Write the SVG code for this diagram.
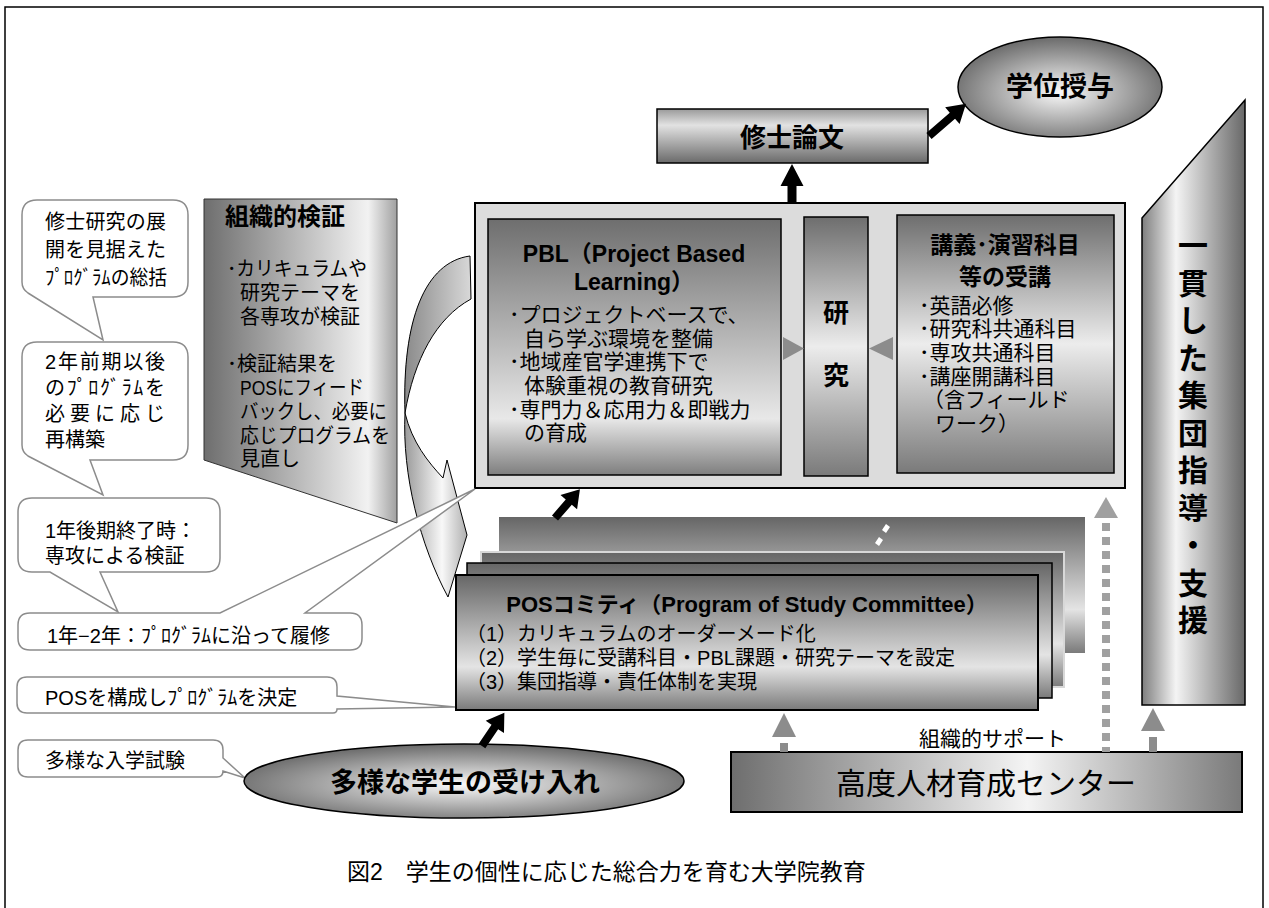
<svg xmlns="http://www.w3.org/2000/svg" width="1269" height="908" viewBox="0 0 1269 908">
<defs>
  <linearGradient id="gPBL" x1="0" y1="0" x2="0" y2="1">
    <stop offset="0" stop-color="#6e6e6e"/><stop offset="0.78" stop-color="#e8e8e8"/><stop offset="1" stop-color="#7e7e7e"/>
  </linearGradient>
  <linearGradient id="gMid" x1="0" y1="0" x2="0" y2="1">
    <stop offset="0" stop-color="#6e6e6e"/><stop offset="0.5" stop-color="#ececec"/><stop offset="1" stop-color="#7a7a7a"/>
  </linearGradient>
  <linearGradient id="gPOS" x1="0" y1="0" x2="0" y2="1">
    <stop offset="0" stop-color="#666"/><stop offset="0.68" stop-color="#e4e4e4"/><stop offset="1" stop-color="#7a7a7a"/>
  </linearGradient>
  <linearGradient id="gThesis" x1="0" y1="0" x2="0" y2="1">
    <stop offset="0" stop-color="#9a9a9a"/><stop offset="0.3" stop-color="#e2e2e2"/><stop offset="1" stop-color="#6a6a6a"/>
  </linearGradient>
  <radialGradient id="gEll" cx="0.5" cy="0.55" r="0.55">
    <stop offset="0" stop-color="#fafafa"/><stop offset="1" stop-color="#6a6a6a"/>
  </radialGradient>
  <linearGradient id="gCenter" x1="0" y1="0" x2="1" y2="0">
    <stop offset="0" stop-color="#6e6e6e"/><stop offset="0.58" stop-color="#f4f4f4"/><stop offset="1" stop-color="#7a7a7a"/>
  </linearGradient>
  <linearGradient id="gSide" x1="0" y1="0" x2="1" y2="0">
    <stop offset="0" stop-color="#7e7e7e"/><stop offset="0.33" stop-color="#f4f4f4"/><stop offset="1" stop-color="#686868"/>
  </linearGradient>
  <linearGradient id="gVerify" x1="0" y1="0" x2="1" y2="0">
    <stop offset="0" stop-color="#6e6e6e"/><stop offset="0.85" stop-color="#f2f2f2"/><stop offset="1" stop-color="#a0a0a0"/>
  </linearGradient>
  <linearGradient id="gCurveBack" x1="0" y1="0" x2="1" y2="0">
    <stop offset="0" stop-color="#8a8a8a"/><stop offset="1" stop-color="#d8d8d8"/>
  </linearGradient>
  <linearGradient id="gCurveFront" x1="0" y1="0" x2="1" y2="0">
    <stop offset="0" stop-color="#9a9a9a"/><stop offset="0.6" stop-color="#f8f8f8"/><stop offset="1" stop-color="#b0b0b0"/>
  </linearGradient>
</defs>
<style>
  text { font-family: "Liberation Sans", "Noto Sans CJK JP", sans-serif; fill: #000; }
  .t20 { font-size: 20px; }
  .t21 { font-size: 21px; }
  .b { font-weight: bold; }
  .callout { fill: #fff; stroke: #8c8c8c; stroke-width: 1.5; }
  .blk { fill: #000; }
  .gry { fill: #8c8c8c; }
  .lgry { fill: #a0a0a0; }
  .edge { stroke: #000; stroke-width: 1.5; }
</style>
<rect x="0" y="0" width="1269" height="908" fill="#fff"/>
<rect x="5" y="7" width="1258" height="960" fill="none" stroke="#000" stroke-width="1.5"/>

<!-- left callouts -->
<g id="callout-summary">
  <path class="callout" d="M37,200 H173 Q188,200 188,215 V282 Q188,297 173,297 H93 L103,340 L28,293 Q22,289 22,282 V215 Q22,200 37,200 Z"/>
  <text class="t20" x="45" y="229" textLength="121" lengthAdjust="spacing">修士研究の展</text>
  <text class="t20" x="45" y="257" textLength="121" lengthAdjust="spacing">開を見据えた</text>
  <text class="t20" x="45" y="285" textLength="122" lengthAdjust="spacingAndGlyphs">ﾌﾟﾛｸﾞﾗﾑの総括</text>
</g>
<g id="callout-rebuild">
  <path class="callout" d="M37,342 H173 Q188,342 188,357 V445 Q188,460 173,460 H90 L103,495 L28,456 Q22,452 22,445 V357 Q22,342 37,342 Z"/>
  <text class="t20" x="45" y="369" textLength="120" lengthAdjust="spacing">2年前期以後</text>
  <text class="t20" x="45" y="395" textLength="120" lengthAdjust="spacing">のﾌﾟﾛｸﾞﾗﾑを</text>
  <text class="t20" x="45" y="421" textLength="120" lengthAdjust="spacing">必要に応じ</text>
  <text class="t20" x="45" y="447">再構築</text>
</g>
<g id="callout-check">
  <path class="callout" d="M32,498 H206 Q220,498 220,512 V558 Q220,572 206,572 H100 L118,612 L50,572 H32 Q18,572 18,558 V512 Q18,498 32,498 Z"/>
  <text class="t20" x="45" y="538">1年後期終了時：</text>
  <text class="t20" x="45" y="563">専攻による検証</text>
</g>

<!-- organisational verification -->
<g id="verify">
  <polygon points="204,199 397,199 397,523 204,460" fill="url(#gVerify)" stroke="#333" stroke-width="1"/>
  <text x="225" y="225" class="b" font-size="24">組織的検証</text>
  <text class="t20" x="227" y="276" textLength="140" lengthAdjust="spacingAndGlyphs">･カリキュラムや</text>
  <text class="t20" x="240" y="300">研究テーマを</text>
  <text class="t20" x="240" y="324">各専攻が検証</text>
  <text class="t20" x="227" y="371">･検証結果を</text>
  <text class="t20" x="240" y="395" textLength="124" lengthAdjust="spacingAndGlyphs">POSにフィード</text>
  <text class="t20" x="240" y="419" textLength="147" lengthAdjust="spacingAndGlyphs">バックし、必要に</text>
  <text class="t20" x="240" y="443" textLength="150" lengthAdjust="spacingAndGlyphs">応じプログラムを</text>
  <text class="t20" x="240" y="466">見直し</text>
</g>

<!-- curved feedback arrow -->
<g id="curved-arrow">
  <path d="M470,256 C425,262 402,320 405,413 C414,360 436,318 471,299 Z" fill="url(#gCurveBack)" stroke="#000" stroke-width="1"/>
  <path d="M405,413 C402,475 420,545 448,597 L467,535 L447,460 L443,478 C428,462 412,442 405,413 Z" fill="url(#gCurveFront)" stroke="#000" stroke-width="1"/>
</g>

<!-- main container -->
<g id="container">
  <rect x="475" y="203" width="650" height="285" fill="#dcdcdc" stroke="#000" stroke-width="2"/>
</g>
<g id="pbl">
  <rect x="488" y="219" width="293" height="256" fill="url(#gPBL)" class="edge"/>
  <text x="634" y="262" class="b" font-size="23" text-anchor="middle">PBL（Project Based</text>
  <text x="634" y="290" class="b" font-size="23" text-anchor="middle">Learning）</text>
  <text class="t21" x="509" y="322">･プロジェクトベースで、</text>
  <text class="t21" x="524" y="346">自ら学ぶ環境を整備</text>
  <text class="t21" x="509" y="369">･地域産官学連携下で</text>
  <text class="t21" x="524" y="393">体験重視の教育研究</text>
  <text class="t21" x="509" y="417">･専門力＆応用力＆即戦力</text>
  <text class="t21" x="524" y="440">の育成</text>
</g>
<g id="research">
  <rect x="804" y="217" width="64" height="259" fill="url(#gMid)" class="edge"/>
  <text x="836" y="322" class="b" font-size="26" text-anchor="middle">研</text>
  <text x="836" y="385" class="b" font-size="26" text-anchor="middle">究</text>
</g>
<g id="lectures">
  <rect x="897" y="215" width="217" height="258" fill="url(#gMid)" class="edge"/>
  <text x="1005" y="253" class="b" font-size="23" text-anchor="middle">講義･演習科目</text>
  <text x="1005" y="285" class="b" font-size="23" text-anchor="middle">等の受講</text>
  <text class="t21" x="919" y="313">･英語必修</text>
  <text class="t21" x="919" y="336">･研究科共通科目</text>
  <text class="t21" x="919" y="360">･専攻共通科目</text>
  <text class="t21" x="919" y="384">･講座開講科目</text>
  <text class="t21" x="923" y="407">（含フィールド</text>
  <text class="t21" x="935" y="431">ワーク）</text>
</g>

<g id="thesis">
  <rect x="657" y="109" width="271" height="54" fill="url(#gThesis)" class="edge"/>
  <text x="792" y="147" class="b" font-size="26" text-anchor="middle">修士論文</text>
</g>
<g id="degree">
  <ellipse cx="1060" cy="87" rx="102" ry="50" fill="url(#gEll)" class="edge"/>
  <text x="1060" y="96" class="b" font-size="27" text-anchor="middle">学位授与</text>
</g>

<g id="support">
  <polygon points="1142,218 1245,100 1245,705 1142,705" fill="url(#gSide)" class="edge"/>
  <text x="1193" y="256" class="b" font-size="30" text-anchor="middle">一<tspan x="1193" dy="37.5">貫</tspan><tspan x="1193" dy="37.5">し</tspan><tspan x="1193" dy="37.5">た</tspan><tspan x="1193" dy="37.5">集</tspan><tspan x="1193" dy="37.5">団</tspan><tspan x="1193" dy="37.5">指</tspan><tspan x="1193" dy="37.5">導</tspan><tspan x="1193" dy="37.5">・</tspan><tspan x="1193" dy="37.5">支</tspan><tspan x="1193" dy="37.5">援</tspan></text>
</g>

<!-- POS committee stack -->
<g id="pos">
  <rect x="499" y="517" width="586" height="136" fill="url(#gPOS)"/>
  <polygon points="886,524 890,527 886,533 882,530" fill="#fff"/>
  <polygon points="879,537 883,540 879,546 875,543" fill="#fff"/>
  <rect x="481" y="552" width="583" height="135" fill="url(#gPOS)" stroke="#d8d8d8" stroke-width="2"/>
  <rect x="467" y="563" width="585" height="135" fill="url(#gPOS)" class="edge"/>
  <rect x="456" y="575" width="582" height="135" fill="url(#gPOS)" stroke="#000" stroke-width="2"/>
  <text x="747" y="612" class="b" font-size="22" text-anchor="middle">POSコミティ（Program of Study Committee）</text>
  <text class="t20" x="466" y="641">（1）カリキュラムのオーダーメード化</text>
  <text class="t20" x="466" y="665">（2）学生毎に受講科目・PBL課題・研究テーマを設定</text>
  <text class="t20" x="466" y="689">（3）集団指導・責任体制を実現</text>
</g>

<g id="callout-follow">
  <path class="callout" d="M30,613 H220 L475,489 L305,613 H350 Q362,613 362,625 V638 Q362,650 350,650 H30 Q18,650 18,638 V625 Q18,613 30,613 Z"/>
  <text class="t20" x="47" y="643">1年−2年：ﾌﾟﾛｸﾞﾗﾑに沿って履修</text>
</g>
<g id="callout-pos">
  <path class="callout" d="M27,677 H327 Q337,677 337,687 V696 L455,707 L337,709 Q337,713 333,713 H27 Q17,713 17,703 V687 Q17,677 27,677 Z"/>
  <text class="t20" x="45" y="705">POSを構成しﾌﾟﾛｸﾞﾗﾑを決定</text>
</g>
<g id="callout-exam">
  <path class="callout" d="M28,740 H213 Q223,740 223,750 V758 L245,778 L223,771 Q223,777 217,777 H28 Q18,777 18,767 V750 Q18,740 28,740 Z"/>
  <text class="t20" x="45" y="768">多様な入学試験</text>
</g>

<g id="students">
  <ellipse cx="464" cy="781" rx="220" ry="37" fill="url(#gEll)" class="edge"/>
  <text x="465" y="792" class="b" font-size="27" text-anchor="middle">多様な学生の受け入れ</text>
</g>

<g id="center">
  <rect x="731" y="752" width="511" height="60" fill="url(#gCenter)" stroke="#000" stroke-width="2"/>
  <text x="986" y="794" font-size="30" text-anchor="middle">高度人材育成センター</text>
</g>

<g id="connectors">
  <path class="blk" d="M0,-4.5 H17 V-11.5 L39,0 L17,11.5 V4.5 H0 Z" transform="translate(792,203) rotate(-90)"/>
  <path class="blk" d="M0,-4 H31 V-11 L49,0 L31,11 V4 H0 Z" transform="translate(929,136) rotate(-41)"/>
  <path class="blk" d="M0,-4 H21 V-11 L38,0 L21,11 V4 H0 Z" transform="translate(555,518) rotate(-49)"/>
  <path class="blk" d="M0,-4 H23 V-11 L40,0 L23,11 V4 H0 Z" transform="translate(482,746) rotate(-56)"/>
  <polygon class="gry" points="783,337 804,348.5 783,360"/>
  <polygon class="gry" points="893,337 869,348.5 893,360"/>
  <polygon class="gry" points="772,737 784,713 796,737"/>
  <rect class="gry" x="780" y="743" width="8" height="9"/>
  <polygon class="lgry" points="1094,518 1106,497 1118,518"/>
  <line x1="1106" y1="523" x2="1106" y2="752" stroke="#a0a0a0" stroke-width="8" stroke-dasharray="8 6"/>
  <polygon class="gry" points="1141,731 1153,708 1165,731"/>
  <rect class="gry" x="1149" y="737" width="8" height="15"/>
</g>

<text class="t21" x="919" y="746">組織的サポート</text>
<text x="347" y="880" font-size="23">図2　学生の個性に応じた総合力を育む大学院教育</text>
</svg>
